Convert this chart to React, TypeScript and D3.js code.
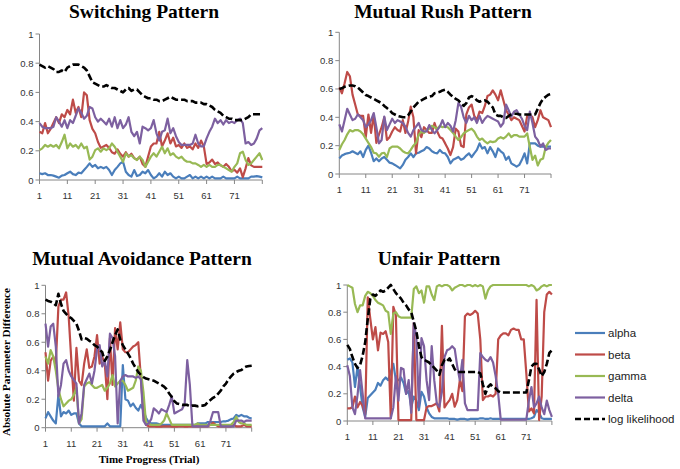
import * as d3 from "d3";

const trials = d3.range(1, 82);
const xTicks = [1, 11, 21, 31, 41, 51, 61, 71];
const xTickMarks = [1, 11, 21, 31, 41, 51, 61, 71, 81];
const yTicks = [0, 0.2, 0.4, 0.6, 0.8, 1];
const yTickLabels = ["0", "0.2", "0.4", "0.6", "0.8", "1"];

const seriesNames = ["alpha", "beta", "gamma", "delta", "log likelihood"];
const seriesColors = ["#4a7ebb", "#be4b48", "#98b954", "#7d60a0", "#000000"];

const panelTitles = ["Switching Pattern", "Mutual Rush Pattern", "Mutual Avoidance Pattern", "Unfair Pattern"];

// Switching Pattern
const switchAlpha = [
  0.046, 0.04, 0.046, 0.034, 0.034, 0.03, 0.023, 0.016, 0.03, 0.034,
  0.046, 0.057, 0.04, 0.034, 0.05, 0.046, 0.068, 0.09, 0.114, 0.09,
  0.103, 0.08, 0.09, 0.08, 0.09, 0.068, 0.034, 0.068, 0.09, 0.114,
  0.125, 0.057, 0.034, 0.023, 0.068, 0.027, 0.034, 0.057, 0.046, 0.068,
  0.034, 0.011, 0.023, 0.046, 0.023, 0.057, 0.034, 0.046, 0.023, 0.011,
  0.023, 0.011, 0.011, 0.023, 0.034, 0.011, 0.023, 0.011, 0.023, 0.011,
  0.023, 0.011, 0.023, 0.011, 0.011, 0.011, 0.023, 0.011, 0.011, 0.011,
  0.011, 0.023, 0.011, 0.011, 0.011, 0.011, 0.023, 0.023, 0.027, 0.023, 0.018,
];
const switchBeta = [
  0.33, 0.32, 0.39, 0.32, 0.35, 0.39, 0.43, 0.39, 0.45, 0.43,
  0.48, 0.45, 0.55, 0.46, 0.5, 0.43, 0.6, 0.58, 0.41, 0.35,
  0.32, 0.26, 0.22, 0.23, 0.24, 0.22, 0.19, 0.18, 0.21, 0.18,
  0.16, 0.19, 0.16, 0.18, 0.15, 0.14, 0.16, 0.11, 0.09, 0.16,
  0.23, 0.25, 0.25, 0.33, 0.23, 0.27, 0.32, 0.25, 0.29, 0.23,
  0.24, 0.22, 0.25, 0.22, 0.23, 0.21, 0.25, 0.22, 0.27, 0.23,
  0.11, 0.12, 0.14, 0.11, 0.12, 0.1, 0.09, 0.11, 0.09, 0.06,
  0.07, 0.05, 0.08, 0.02, 0.08, 0.15, 0.1, 0.09, 0.09, 0.09, 0.09,
];
const switchGamma = [
  0.205, 0.217, 0.24, 0.228, 0.24, 0.228, 0.24, 0.217, 0.26, 0.31,
  0.217, 0.25, 0.228, 0.24, 0.217, 0.25, 0.217, 0.228, 0.14, 0.16,
  0.205, 0.217, 0.194, 0.217, 0.205, 0.217, 0.25, 0.228, 0.194, 0.16,
  0.125, 0.183, 0.16, 0.17, 0.148, 0.137, 0.16, 0.137, 0.09, 0.125,
  0.16, 0.183, 0.16, 0.194, 0.228, 0.183, 0.217, 0.17, 0.183, 0.16,
  0.148, 0.16, 0.137, 0.125, 0.125, 0.114, 0.114, 0.103, 0.09, 0.103,
  0.09, 0.103, 0.09, 0.09, 0.103, 0.103, 0.09, 0.08, 0.068, 0.057,
  0.09, 0.114, 0.183, 0.194, 0.137, 0.103, 0.114, 0.137, 0.16, 0.183, 0.137,
];
const switchDelta = [
  0.39, 0.365, 0.355, 0.355, 0.355, 0.365, 0.43, 0.4, 0.365, 0.41,
  0.355, 0.41, 0.39, 0.44, 0.49, 0.46, 0.42, 0.44, 0.5, 0.49,
  0.43, 0.4, 0.42, 0.4, 0.38, 0.42, 0.365, 0.43, 0.355, 0.41,
  0.355, 0.38, 0.43, 0.33, 0.3, 0.33, 0.25, 0.365, 0.355, 0.34,
  0.355, 0.41, 0.32, 0.27, 0.33, 0.34, 0.42, 0.32, 0.355, 0.3,
  0.26, 0.24, 0.24, 0.24, 0.24, 0.25, 0.31, 0.25, 0.23, 0.23,
  0.285, 0.33, 0.365, 0.42, 0.39, 0.41, 0.38, 0.41, 0.39, 0.4,
  0.39, 0.41, 0.42, 0.39, 0.25, 0.26, 0.24, 0.25, 0.285, 0.34, 0.355,
];
const switchLikelihood = [
  0.79, 0.78, 0.77, 0.78, 0.77, 0.76, 0.74, 0.74, 0.75, 0.74,
  0.77, 0.78, 0.79, 0.79, 0.79, 0.78, 0.77, 0.75, 0.71, 0.67,
  0.66, 0.65, 0.64, 0.64, 0.65, 0.64, 0.63, 0.63, 0.62, 0.61,
  0.6, 0.62, 0.63, 0.61, 0.62, 0.62, 0.6, 0.58, 0.57, 0.56,
  0.56, 0.55, 0.55, 0.54, 0.54, 0.55, 0.56, 0.57, 0.56, 0.55,
  0.55, 0.55, 0.55, 0.54, 0.54, 0.54, 0.53, 0.53, 0.53, 0.52,
  0.52, 0.51, 0.5, 0.48, 0.47, 0.46, 0.44, 0.43, 0.42, 0.42,
  0.41, 0.41, 0.41, 0.41, 0.42, 0.43, 0.45, 0.45, 0.45, 0.45, 0.45,
];

// Mutual Rush Pattern
const rushAlpha = [
  0.11, 0.13, 0.14, 0.146, 0.15, 0.16, 0.15, 0.14, 0.16, 0.12,
  0.17, 0.2, 0.15, 0.09, 0.11, 0.09, 0.11, 0.12, 0.1, 0.08,
  0.075, 0.064, 0.052, 0.04, 0.064, 0.1, 0.12, 0.146, 0.12, 0.146,
  0.15, 0.16, 0.17, 0.19, 0.18, 0.16, 0.15, 0.146, 0.17, 0.15,
  0.146, 0.12, 0.075, 0.1, 0.11, 0.12, 0.1, 0.11, 0.13, 0.146,
  0.12, 0.146, 0.17, 0.216, 0.18, 0.19, 0.146, 0.19, 0.16, 0.12,
  0.18, 0.16, 0.146, 0.1, 0.122, 0.075, 0.064, 0.052, 0.064, 0.1,
  0.146, 0.075, 0.216, 0.216, 0.216, 0.2, 0.193, 0.193, 0.193, 0.193, 0.193,
];
const rushBeta = [
  0.61, 0.57, 0.64, 0.72, 0.69, 0.56, 0.49, 0.42, 0.41, 0.41,
  0.26, 0.42, 0.29, 0.42, 0.22, 0.28, 0.33, 0.4, 0.24, 0.26,
  0.3, 0.33, 0.31, 0.3, 0.38, 0.29, 0.37, 0.475, 0.4, 0.146,
  0.31, 0.26, 0.33, 0.31, 0.29, 0.29, 0.36, 0.3, 0.26, 0.25,
  0.216, 0.18, 0.134, 0.19, 0.32, 0.3, 0.2, 0.19, 0.42, 0.47,
  0.49, 0.41, 0.38, 0.44, 0.43, 0.48, 0.55, 0.56, 0.59, 0.56,
  0.52, 0.59, 0.52, 0.45, 0.42, 0.38, 0.4, 0.39, 0.38, 0.34,
  0.3, 0.41, 0.42, 0.4, 0.33, 0.38, 0.45, 0.4, 0.39, 0.38, 0.33,
];
const rushGamma = [
  0.17, 0.21, 0.24, 0.28, 0.31, 0.3, 0.31, 0.31, 0.3, 0.28,
  0.25, 0.22, 0.19, 0.15, 0.146, 0.122, 0.146, 0.15, 0.12, 0.18,
  0.193, 0.193, 0.193, 0.18, 0.16, 0.15, 0.146, 0.17, 0.2, 0.22,
  0.276, 0.3, 0.29, 0.31, 0.32, 0.34, 0.33, 0.32, 0.34, 0.33,
  0.334, 0.33, 0.31, 0.29, 0.264, 0.24, 0.26, 0.287, 0.3, 0.31,
  0.32, 0.3, 0.264, 0.24, 0.25, 0.23, 0.216, 0.23, 0.225, 0.23,
  0.25, 0.26, 0.25, 0.264, 0.287, 0.26, 0.275, 0.275, 0.264, 0.264,
  0.264, 0.287, 0.19, 0.1, 0.13, 0.06, 0.1, 0.11, 0.19, 0.22, 0.24,
];
const rushDelta = [
  0.35, 0.3, 0.38, 0.46, 0.42, 0.38, 0.39, 0.42, 0.4, 0.38,
  0.33, 0.35, 0.38, 0.43, 0.33, 0.216, 0.24, 0.405, 0.31, 0.35,
  0.39, 0.36, 0.38, 0.37, 0.36, 0.334, 0.29, 0.264, 0.31, 0.334,
  0.36, 0.31, 0.3, 0.3, 0.345, 0.31, 0.287, 0.31, 0.334, 0.38,
  0.33, 0.36, 0.34, 0.3, 0.38, 0.5, 0.475, 0.4, 0.36, 0.41,
  0.38, 0.4, 0.36, 0.41, 0.36, 0.39, 0.41, 0.4, 0.39, 0.38,
  0.37, 0.334, 0.36, 0.49, 0.45, 0.405, 0.44, 0.45, 0.42, 0.39,
  0.34, 0.31, 0.44, 0.36, 0.264, 0.24, 0.193, 0.216, 0.17, 0.18, 0.18,
];
const rushLikelihood = [
  0.6, 0.605, 0.616, 0.62, 0.625, 0.625, 0.62, 0.61, 0.593, 0.575,
  0.557, 0.55, 0.54, 0.53, 0.52, 0.51, 0.5, 0.48, 0.465, 0.45,
  0.43, 0.42, 0.41, 0.405, 0.4, 0.4, 0.415, 0.44, 0.47, 0.49,
  0.51, 0.52, 0.53, 0.54, 0.545, 0.55, 0.57, 0.575, 0.58, 0.59,
  0.595, 0.58, 0.56, 0.545, 0.53, 0.52, 0.5, 0.48, 0.5, 0.54,
  0.55, 0.54, 0.52, 0.51, 0.52, 0.52, 0.51, 0.49, 0.47, 0.42,
  0.41, 0.41, 0.4, 0.395, 0.41, 0.42, 0.425, 0.425, 0.42, 0.42,
  0.42, 0.42, 0.42, 0.42, 0.42, 0.46, 0.5, 0.53, 0.545, 0.56, 0.565,
];

// Mutual Avoidance Pattern
const avoidAlpha = [
  0.065, 0.11, 0.08, 0.05, 0.03, 0.23, 0.08, 0.11, 0.1, 0.12,
  0.09, 0.1, 0.1, 0.03, 0.01, 0.01, 0.01, 0.01, 0.01, 0.01,
  0.01, 0.01, 0.01, 0.01, 0.03, 0.01, 0.01, 0.01, 0.01, 0.01,
  0.44, 0.2, 0.19, 0.15, 0.17, 0.14, 0.12, 0.16, 0.12, 0.07,
  0.04, 0.03, 0.03, 0.03, 0.025, 0.02, 0.02, 0.02, 0.02, 0.02,
  0.02, 0.02, 0.02, 0.02, 0.02, 0.02, 0.02, 0.02, 0.02, 0.03,
  0.03, 0.03, 0.03, 0.04, 0.04, 0.04, 0.04, 0.04, 0.04, 0.045,
  0.045, 0.05, 0.06, 0.065, 0.09, 0.08, 0.09, 0.08, 0.08, 0.07, 0.065,
];
const avoidBeta = [
  0.53, 0.33, 0.47, 0.5, 0.45, 0.85, 0.9, 0.9, 0.95, 0.78,
  0.48, 0.19, 0.56, 0.33, 0.3, 0.45, 0.55, 0.42, 0.43, 0.5,
  0.65, 0.45, 0.5, 0.45, 0.2, 0.63, 0.3, 0.7, 0.55, 0.74,
  0.55, 0.53, 0.53, 0.55, 0.57, 0.58, 0.6, 0.35, 0.1, 0.02,
  0.01, 0.01, 0.01, 0.007, 0.007, 0.007, 0.01, 0.01, 0.01, 0.007,
  0.007, 0.007, 0.01, 0.01, 0.007, 0.007, 0.01, 0.01, 0.01, 0.01,
  0.01, 0.01, 0.01, 0.01, 0.02, 0.035, 0.02, 0.01, 0.01, 0.01,
  0.01, 0.01, 0.01, 0.02, 0.01, 0.01, 0.01, 0.02, 0.01, 0.01, 0.01,
];
const avoidGamma = [
  0.5, 0.45, 0.545, 0.5, 0.4, 0.27, 0.2, 0.15, 0.17, 0.19,
  0.2, 0.23, 0.28, 0.03, 0.06, 0.29, 0.31, 0.32, 0.3, 0.28,
  0.28, 0.29, 0.3, 0.26, 0.28, 0.31, 0.37, 0.29, 0.31, 0.33,
  0.33, 0.3, 0.26, 0.27, 0.28, 0.33, 0.43, 0.4, 0.25, 0.03,
  0.03, 0.02, 0.02, 0.02, 0.02, 0.03, 0.05, 0.1, 0.06, 0.02,
  0.02, 0.02, 0.02, 0.02, 0.02, 0.02, 0.02, 0.02, 0.02, 0.03,
  0.02, 0.02, 0.02, 0.02, 0.02, 0.02, 0.02, 0.02, 0.02, 0.02,
  0.02, 0.02, 0.02, 0.04, 0.077, 0.04, 0.03, 0.03, 0.02, 0.02, 0.02,
];
const avoidDelta = [
  0.73, 0.57, 0.71, 0.73, 0.57, 0.22, 0.3, 0.45, 0.475, 0.4,
  0.36, 0.335, 0.31, 0.03, 0.1, 0.3, 0.34, 0.38, 0.31, 0.4,
  0.55, 0.58, 0.43, 0.47, 0.36, 0.66, 0.63, 0.5, 0.03, 0.33,
  0.36, 0.37, 0.36, 0.36, 0.36, 0.35, 0.36, 0.34, 0.05, 0.02,
  0.03, 0.06, 0.136, 0.12, 0.1, 0.13, 0.12, 0.11, 0.16, 0.22,
  0.1, 0.11, 0.12, 0.13, 0.17, 0.475, 0.3, 0.01, 0.01, 0.01,
  0.01, 0.01, 0.01, 0.01, 0.05, 0.11, 0.11, 0.11, 0.01, 0.01,
  0.01, 0.01, 0.01, 0.01, 0.05, 0.05, 0.05, 0.04, 0.05, 0.05, 0.05,
];
const avoidLikelihood = [
  0.9, 0.89, 0.885, 0.875, 0.86, 0.94, 0.87, 0.82, 0.8, 0.78,
  0.77, 0.75, 0.73, 0.68, 0.62, 0.63, 0.625, 0.61, 0.6, 0.58,
  0.57, 0.55, 0.53, 0.47, 0.5, 0.545, 0.6, 0.65, 0.69, 0.62,
  0.58, 0.55, 0.52, 0.49, 0.45, 0.42, 0.39, 0.37, 0.355, 0.345,
  0.34, 0.335, 0.33, 0.32, 0.31, 0.3, 0.288, 0.27, 0.24, 0.215,
  0.185, 0.17, 0.165, 0.16, 0.16, 0.16, 0.15, 0.155, 0.155, 0.15,
  0.155, 0.155, 0.16, 0.18, 0.195, 0.21, 0.22, 0.24, 0.26, 0.29,
  0.31, 0.34, 0.36, 0.38, 0.39, 0.4, 0.405, 0.42, 0.43, 0.433, 0.435,
];

// Unfair Pattern
const unfairAlpha = [
  0.45, 0.46, 0.43, 0.25, 0.4, 0.25, 0.1, 0.03, 0.17, 0.19,
  0.21, 0.23, 0.28, 0.26, 0.3, 0.32, 0.3, 0.36, 0.42, 0.3,
  0.3, 0.32, 0.28, 0.2, 0.22, 0.1, 0.18, 0.15, 0.08, 0.215,
  0.18, 0.1, 0.056, 0.03, 0.02, 0.02, 0.02, 0.02, 0.02, 0.02,
  0.015, 0.015, 0.015, 0.01, 0.015, 0.015, 0.015, 0.01, 0.015, 0.015,
  0.015, 0.015, 0.02, 0.02, 0.015, 0.015, 0.02, 0.015, 0.015, 0.015,
  0.015, 0.015, 0.015, 0.015, 0.015, 0.015, 0.015, 0.015, 0.015, 0.015,
  0.015, 0.015, 0.02, 0.03, 0.08, 0.06, 0.02, 0.015, 0.015, 0.015, 0.015,
];
const unfairBeta = [
  0.093, 0.093, 0.1, 0.18, 0.1, 0.14, 0.11, 0.05, 0.91, 0.75,
  0.6, 0.69, 0.52, 0.65, 0.64, 0.66, 0.58, 0.02, 0.84, 0.78,
  0.007, 0.007, 0.007, 0.007, 0.007, 0.007, 0.72, 0.007, 0.007, 0.007,
  0.007, 0.1, 0.11, 0.11, 0.12, 0.13, 0.07, 0.7, 0.1, 0.13,
  0.154, 0.2, 0.105, 0.154, 0.3, 0.22, 0.77, 0.79, 0.78, 0.79,
  0.81, 0.79, 0.6, 0.154, 0.18, 0.18, 0.19, 0.18, 0.2, 0.6,
  0.63, 0.645, 0.645, 0.63, 0.67, 0.68, 0.67, 0.67, 0.6, 0.6,
  0.35, 0.07, 0.093, 0.056, 0.89, 0.007, 0.18, 0.8, 0.93, 0.95, 0.93,
];
const unfairGamma = [
  1.0, 0.99, 0.98, 0.86, 0.8, 0.85, 0.85, 0.92, 0.95, 0.94,
  0.92, 0.89, 0.87, 0.86, 0.85, 0.81, 0.8, 0.64, 0.79, 0.8,
  0.77, 0.76, 0.76, 0.76, 0.76, 0.76, 0.97, 0.99, 0.94, 0.96,
  0.87, 0.99, 0.99, 0.93, 0.89, 0.99, 1.0, 0.99, 1.0, 1.0,
  0.99, 0.96, 0.98, 0.99, 1.0, 1.0, 0.99, 1.0, 1.0, 0.99,
  1.0, 0.99, 1.0, 0.99, 0.9, 0.96, 0.99, 1.0, 1.0, 1.0,
  1.0, 1.0, 1.0, 1.0, 1.0, 1.0, 1.0, 1.0, 1.0, 1.0,
  1.0, 0.99, 1.0, 0.99, 0.96, 0.97, 0.99, 1.0, 0.99, 1.0, 1.0,
];
const unfairDelta = [
  0.41, 0.33, 0.1, 0.05, 0.19, 0.375, 0.2, 0.02, 0.02, 0.02,
  0.02, 0.02, 0.02, 0.02, 0.02, 0.02, 0.02, 0.02, 0.1, 0.33,
  0.15, 0.39, 0.38, 0.2, 0.3, 0.06, 0.72, 0.62, 0.105, 0.61,
  0.55, 0.3, 0.154, 0.55, 0.3, 0.13, 0.105, 0.215, 0.47, 0.52,
  0.53, 0.55, 0.53, 0.4, 0.3, 0.45, 0.13, 0.08, 0.08, 0.08,
  0.08, 0.08, 0.5, 0.47, 0.45, 0.44, 0.47, 0.43, 0.33, 0.2,
  0.01, 0.01, 0.01, 0.01, 0.01, 0.01, 0.01, 0.01, 0.01, 0.01,
  0.01, 0.15, 0.25, 0.1, 0.13, 0.18, 0.1, 0.05, 0.15, 0.08, 0.03,
];
const unfairLikelihood = [
  0.56, 0.53, 0.47, 0.42, 0.39, 0.41, 0.48, 0.58, 0.75, 0.9,
  0.93, 0.92, 0.94, 0.96, 0.95, 0.96, 0.98, 1.0, 0.97, 0.94,
  0.92, 0.9, 0.87, 0.85, 0.82, 0.8, 0.73, 0.66, 0.55, 0.47,
  0.45, 0.44, 0.43, 0.41, 0.39, 0.37, 0.34, 0.41, 0.45, 0.44,
  0.46, 0.42, 0.38, 0.36, 0.36, 0.36, 0.36, 0.36, 0.36, 0.36,
  0.36, 0.36, 0.35, 0.27, 0.2, 0.25, 0.27, 0.25, 0.24, 0.22,
  0.21, 0.21, 0.21, 0.21, 0.21, 0.21, 0.21, 0.21, 0.21, 0.21,
  0.21, 0.3, 0.4, 0.42, 0.42, 0.38, 0.33, 0.36, 0.42, 0.5, 0.52,
];

const panelSeries = [
  [switchAlpha, switchBeta, switchGamma, switchDelta, switchLikelihood],
  [rushAlpha, rushBeta, rushGamma, rushDelta, rushLikelihood],
  [avoidAlpha, avoidBeta, avoidGamma, avoidDelta, avoidLikelihood],
  [unfairAlpha, unfairBeta, unfairGamma, unfairDelta, unfairLikelihood],
];

const boxes = [
  { left: 39.5, right: 262.3, top: 34, bottom: 180, titleX: 144, titleY: 17.5 },
  { left: 339.3, right: 551, top: 32.3, bottom: 174, titleX: 443, titleY: 17.5 },
  { left: 45.5, right: 251.7, top: 285.3, bottom: 427.7, titleX: 142, titleY: 265 },
  { left: 347.3, right: 551.9, top: 285, bottom: 421, titleX: 439, titleY: 265 },
];

const axisColor = "#868686";
const tickFont = "'Liberation Sans', Arial, sans-serif";
const serif = "'Liberation Serif', 'Times New Roman', serif";

type Box = (typeof boxes)[number];

function Panel({ title, series, box }: { title: string; series: number[][]; box: Box }) {
  const x = d3.scaleLinear().domain([1, 81]).range([box.left, box.right]);
  const y = d3.scaleLinear().domain([0, 1]).range([box.bottom, box.top]);
  const line = d3
    .line<number>()
    .x((_, i) => x(trials[i]))
    .y((d) => y(d));

  return (
    <g>
      <text
        x={box.titleX}
        y={box.titleY}
        textAnchor="middle"
        fontFamily={serif}
        fontWeight="bold"
        fontSize={19.5}
        fill="#000"
      >
        {title}
      </text>

      {yTicks.map((t, i) => (
        <g key={t}>
          <line x1={box.left - 4} x2={box.left} y1={y(t)} y2={y(t)} stroke={axisColor} />
          <text
            x={box.left - 6}
            y={y(t) + 3.5}
            textAnchor="end"
            fontFamily={tickFont}
            fontSize={9.5}
            fill="#333"
          >
            {yTickLabels[i]}
          </text>
        </g>
      ))}
      {xTickMarks.map((t) => (
        <line key={t} x1={x(t)} x2={x(t)} y1={box.bottom} y2={box.bottom + 4} stroke={axisColor} />
      ))}
      {xTicks.map((t) => (
        <text
          key={t}
          x={x(t)}
          y={box.bottom + 19}
          textAnchor="middle"
          fontFamily={tickFont}
          fontSize={9.5}
          fill="#333"
        >
          {t}
        </text>
      ))}
      <line x1={box.left} x2={box.left} y1={box.top} y2={box.bottom} stroke={axisColor} />
      <line x1={box.left} x2={box.right} y1={box.bottom} y2={box.bottom} stroke={axisColor} />

      {series.map((values, i) => (
        <path
          key={seriesNames[i]}
          d={line(values) ?? ""}
          fill="none"
          stroke={seriesColors[i]}
          strokeWidth={i === 4 ? 2.6 : 2.2}
          strokeDasharray={i === 4 ? "7 3" : undefined}
          strokeLinejoin="round"
        />
      ))}
    </g>
  );
}

export default function App() {
  const legendY = d3.scaleLinear().domain([0, 4]).range([333, 419]);

  return (
    <svg
      width={680}
      height={469}
      viewBox="0 0 680 469"
      style={{ position: "absolute", left: 0, top: 0, background: "#fff" }}
    >
      <rect width={680} height={469} fill="#fff" />
      {panelTitles.map((title, i) => (
        <Panel key={title} title={title} series={panelSeries[i]} box={boxes[i]} />
      ))}

      <text
        transform="translate(10,362) rotate(-90)"
        textAnchor="middle"
        fontFamily={serif}
        fontWeight="bold"
        fontSize={11.2}
      >
        Absolute Parameter Difference
      </text>
      <text x={149} y={463} textAnchor="middle" fontFamily={serif} fontWeight="bold" fontSize={11}>
        Time Progress (Trial)
      </text>

      {seriesNames.map((name, i) => (
        <g key={name}>
          <line
            x1={575}
            x2={605}
            y1={legendY(i)}
            y2={legendY(i)}
            stroke={seriesColors[i]}
            strokeWidth={i === 4 ? 2.6 : 2.2}
            strokeDasharray={i === 4 ? "6 3" : undefined}
          />
          <text x={608} y={legendY(i) + 4} fontFamily={tickFont} fontSize={11.5} fill="#222">
            {name}
          </text>
        </g>
      ))}
    </svg>
  );
}
